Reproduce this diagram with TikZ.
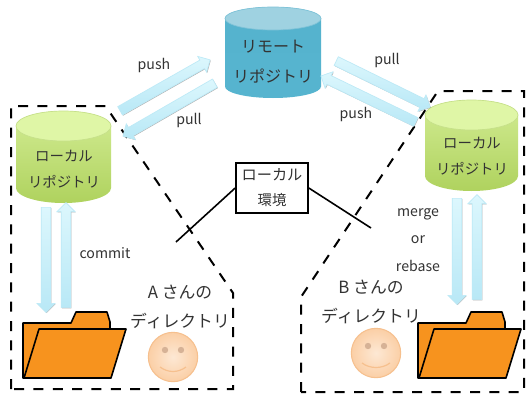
\documentclass[tikz,border=0pt]{standalone}
\usepackage{fontspec}
\setmainfont{Noto Sans CJK JP}
\usetikzlibrary{shapes.arrows,shadows,calc}
\definecolor{txt}{HTML}{333333}
\definecolor{orangef}{HTML}{F7931E}
\definecolor{arrtop}{HTML}{DCF7FD}
\definecolor{arrbot}{HTML}{B8E8F6}
\definecolor{arrline}{HTML}{BDEAF7}
\definecolor{facein}{HTML}{FDE8D4}
\definecolor{faceout}{HTML}{FBCFA6}
\definecolor{faceline}{HTML}{F6C08E}
\definecolor{eyecol}{HTML}{D6B296}
\definecolor{blueT}{HTML}{55B3CE}
\definecolor{blueB}{HTML}{56B4CF}
\definecolor{blueE}{HTML}{9FD2E1}
\definecolor{blueL}{HTML}{7FC3D8}
\definecolor{greenT}{HTML}{D2EC93}
\definecolor{greenB}{HTML}{AFD25E}
\definecolor{greenE}{HTML}{DFF6A6}
\definecolor{greenL}{HTML}{C6E08A}
\tikzset{
  x=0.75pt,y=-0.75pt,
  lbl/.style={text=txt,font=\fontsize{10.8pt}{12pt}\selectfont,inner sep=0pt},
  lblbig/.style={text=txt,font=\fontsize{12pt}{14pt}\selectfont,inner sep=0pt},
  lbldir/.style={text=txt,font=\fontsize{12.6pt}{14pt}\selectfont,inner sep=0pt},
  en/.style={text=txt,font=\fontsize{10.6pt}{12pt}\selectfont,inner sep=0pt},
  dashline/.style={draw=black,line width=1.5pt,dash pattern=on 7.5pt off 7pt},
  solidline/.style={draw=black,line width=1.2pt},
  folder/.style={draw=black,fill=orangef,line width=1.2pt,line join=round},
  blockarrow/.style={single arrow,single arrow head extend=3.2pt,minimum width=13.1pt,
    inner sep=0pt,draw=arrline,line width=.5pt,top color=arrtop,bottom color=arrbot,
    drop shadow={shadow xshift=.5pt,shadow yshift=-.5pt,fill=black,opacity=.3}},
  face/.style={draw=faceline,line width=.8pt,inner color=facein,outer color=faceout,minimum size=37pt,circle,inner sep=0pt},
  eye/.style={fill=eyecol,circle,minimum size=4.8pt,inner sep=0pt},
  smile/.style={draw=faceline,line width=.9pt},
}
% name, start, end
\newcommand{\myarrow}[3]{\path let \p1=(#2),\p2=(#3),\n1={atan2(\y2-\y1,\x2-\x1)},\n2={veclen(\x2-\x1,\y2-\y1)} in
  node[blockarrow,rotate=\n1,minimum height=\n2] (#1) at ($(#2)!.5!(#3)$) {\rule{0pt}{6.7pt}};}
% cx, top cy, bottom cy, rx, ry, top col, bottom col, ellipse col, ellipse line
\newcommand{\mycyl}[9]{
  \shade[top color=#6,bottom color=#7]
    (#1-#4,#2) -- (#1-#4,#3) arc[start angle=180,end angle=360,x radius={#4*0.75pt},y radius={#5*0.75pt}]
    -- (#1+#4,#2) arc[start angle=0,end angle=180,x radius={#4*0.75pt},y radius={#5*0.75pt}] -- cycle;
  \draw[fill=#8,draw=#9,line width=.5pt] (#1,#2) ellipse[x radius={#4*0.75pt},y radius={#5*0.75pt}];
}
% dx
\newcommand{\myfolder}[1]{
  \begin{scope}[shift={(#1,0)}]
  \draw[folder] (23,323) -- (71,323) -- (76,312) -- (107,312) -- (110,322) -- (110,329) -- (110,378) -- (23,378) -- cycle;
  \draw[folder] (39,329) -- (126,329) -- (111,378) -- (24,378) -- cycle;
  \end{scope}
}
\begin{document}
\begin{tikzpicture}
\useasboundingbox[fill=white] (0,0) rectangle (532,400);
% dashed regions
\draw[dashline] (11,389) -- (11,106) -- (105.5,106) -- (233,293) -- (233,389) -- cycle;
\draw[dashline] (301,392) -- (301,297) -- (438,91) -- (524,91) -- (524,392) -- cycle;
% cylinders
\mycyl{273}{18.5}{86.5}{48}{11.5}{blueT}{blueB}{blueE}{blueL}
\mycyl{63.5}{126}{188}{47.5}{15}{greenT}{greenB}{greenE}{greenL}
\mycyl{471.5}{115}{176}{46.5}{15}{greenT}{greenB}{greenE}{greenL}
\node[lblbig] (r1) at (273,47) {リモート};
\node[lblbig] (r2) at (273,76) {リポジトリ};
\node[lbl] (a1) at (64,156) {ローカル};
\node[lbl] (a2) at (64,182) {リポジトリ};
\node[lbl] (b1) at (472,143) {ローカル};
\node[lbl] (b2) at (472,169) {リポジトリ};
% block arrows
\coordinate (p1s) at (118,112); \coordinate (p1e) at (208,61);
\coordinate (p2s) at (217,82);  \coordinate (p2e) at (125,135);
\coordinate (p3s) at (334,60);  \coordinate (p3e) at (428,106);
\coordinate (p4s) at (418,123); \coordinate (p4e) at (323,77);
\coordinate (v1s) at (46,205);  \coordinate (v1e) at (46,310);
\coordinate (v2s) at (66,310);  \coordinate (v2e) at (66,205);
\coordinate (v3s) at (457,196); \coordinate (v3e) at (457,302);
\coordinate (v4s) at (477,302); \coordinate (v4e) at (477,197);
\myarrow{ap1}{p1s}{p1e}
\myarrow{ap2}{p2s}{p2e}
\myarrow{ap3}{p3s}{p3e}
\myarrow{ap4}{p4s}{p4e}
\myarrow{av1}{v1s}{v1e}
\myarrow{av2}{v2s}{v2e}
\myarrow{av3}{v3s}{v3e}
\myarrow{av4}{v4s}{v4e}
% labels
\node[en] (l1) at (154,65) {push};
\node[en] (l2) at (189,120) {pull};
\node[en] (l3) at (387,60) {pull};
\node[en] (l4) at (356,114) {push};
\node[en] (l5) at (105,253) {commit};
\node[en] (l6) at (418,214) {merge};
\node[en] (l7) at (418,240) {or};
\node[en] (l8) at (418,266) {rebase};
\node[lbldir] (n1) at (180,292) {A さんの};
\node[lbldir] (n2) at (180,321) {ディレクトリ};
\node[lbldir] (n3) at (371,287) {B さんの};
\node[lbldir] (n4) at (371,316) {ディレクトリ};
% local box
\node[draw=black,line width=1.2pt,fill=white,minimum width=54pt,minimum height=37.5pt,inner sep=0pt] (box) at (272,188) {};
\node[lbl,font=\fontsize{11.4pt}{14pt}\selectfont] (b3) at (272,175) {ローカル};
\node[lbl] (b4) at (272,200) {環境};
\coordinate (le) at (176,242); \coordinate (re) at (371,228);
\draw[solidline] (box.west) -- (le);
\draw[solidline] (box.east) -- (re);
% folders
\myfolder{0}
\myfolder{395}
% faces
\node[face] (fa) at (173,357) {};
\node[eye] at (165,350) {};
\node[eye] at (181,350) {};
\draw[smile] (160,367) .. controls (168,373) and (178,373) .. (186,367);
\node[face] (fb) at (376,353) {};
\node[eye] at (368,346) {};
\node[eye] at (384,346) {};
\draw[smile] (362,363) .. controls (370,369) and (382,369) .. (390,363);
\end{tikzpicture}
\end{document}
